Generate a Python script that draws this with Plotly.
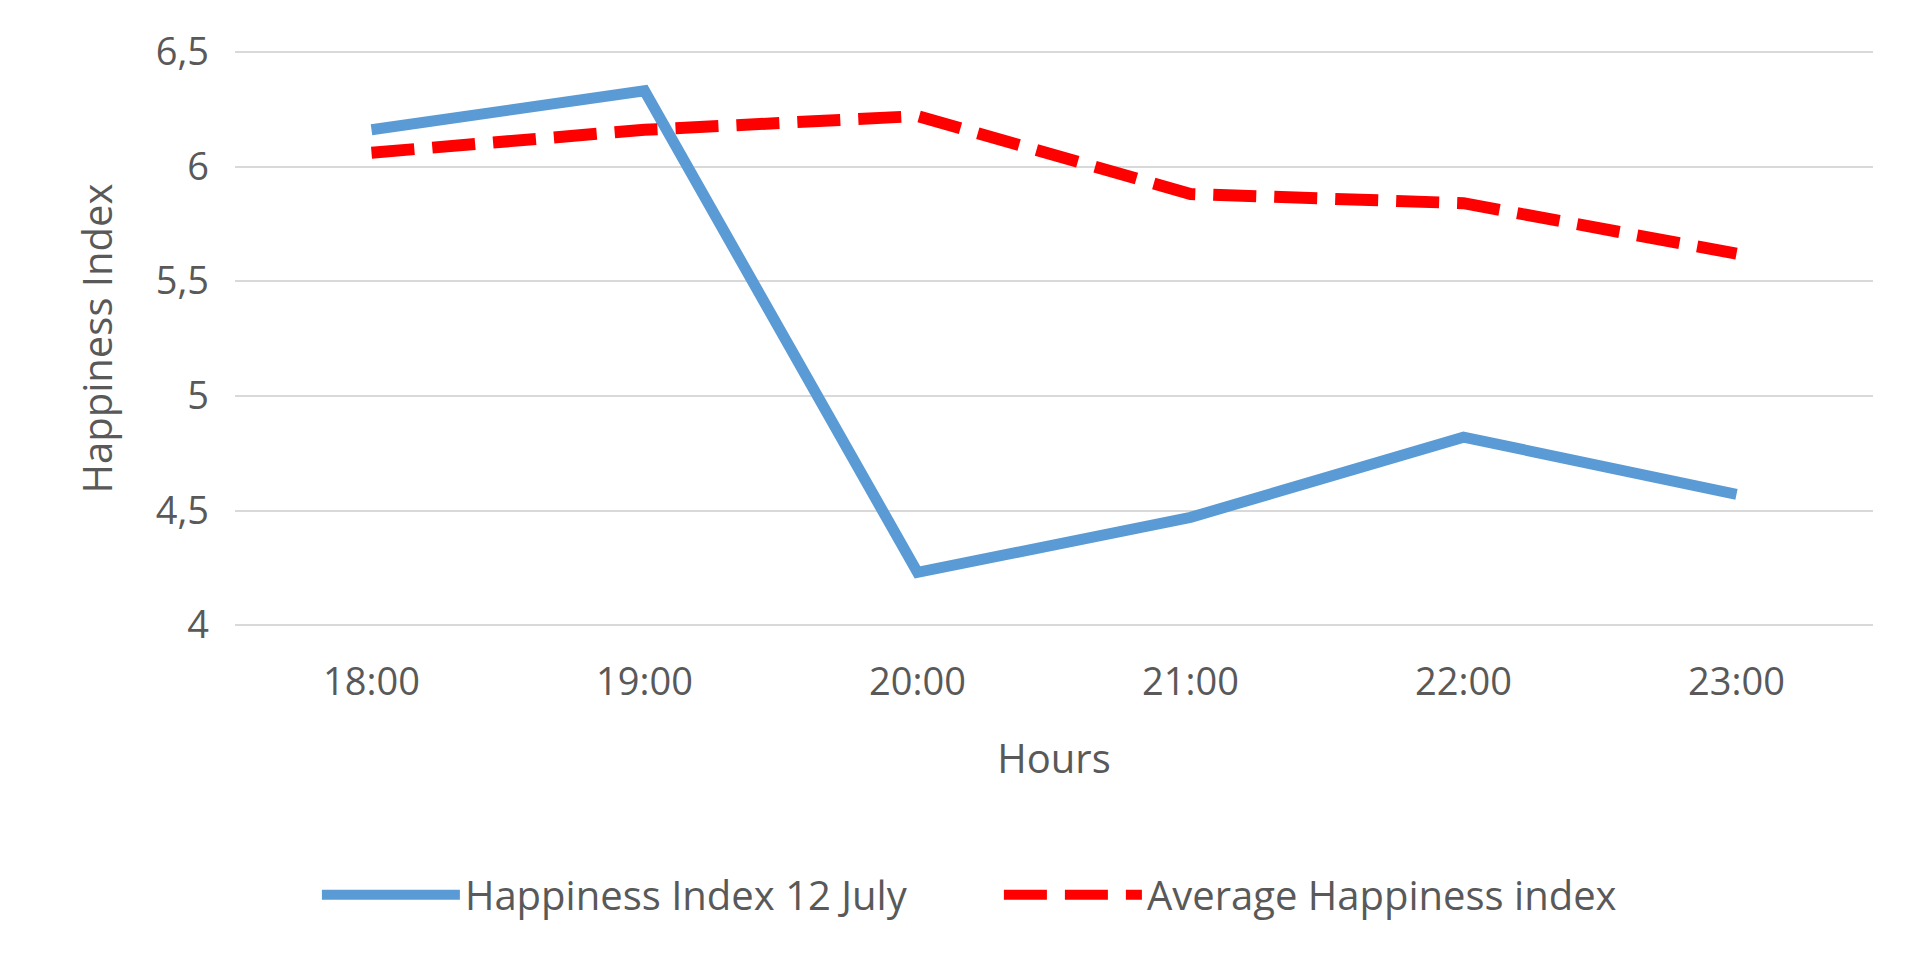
import plotly.graph_objects as go

hours = ["18:00", "19:00", "20:00", "21:00", "22:00", "23:00"]
happiness_12_july = [6.16, 6.33, 4.23, 4.47, 4.82, 4.57]
average_happiness = [6.06, 6.16, 6.22, 5.88, 5.84, 5.62]
y_ticks = [4, 4.5, 5, 5.5, 6, 6.5]
y_tick_labels = ["4", "4,5", "5", "5,5", "6", "6,5"]

FONT = "Open Sans"
GRAY = "#595959"

fig = go.Figure()
fig.add_trace(go.Scatter(
    x=hours, y=happiness_12_july, mode="lines",
    name="Happiness Index 12 July",
    line=dict(color="#5b9bd5", width=11),
))
fig.add_trace(go.Scatter(
    x=hours, y=average_happiness, mode="lines",
    name="Average Happiness index",
    line=dict(color="#ff0000", width=12, dash="43px,18px"),
))

fig.update_layout(
    width=1920, height=961,
    paper_bgcolor="white", plot_bgcolor="white",
    margin=dict(l=235, r=47, t=50, b=334),
    font=dict(family=FONT, color=GRAY, size=38),
    xaxis=dict(
        type="category", range=[-0.5, 5.5],
        showgrid=False, showline=False, zeroline=False,
        ticks="", ticklabelstandoff=29,
        tickfont=dict(size=38, color=GRAY),
        title=dict(text="Hours", font=dict(size=40, color=GRAY), standoff=39),
    ),
    yaxis=dict(
        range=[3.992, 6.508], tickvals=y_ticks, ticktext=y_tick_labels,
        showgrid=True, gridcolor="#d9d9d9", gridwidth=2,
        zeroline=False, showline=False, ticks="",
        ticklabelstandoff=25,
        tickfont=dict(size=38, color=GRAY),
        title=dict(text="Happiness Index", font=dict(size=40, color=GRAY), standoff=30),
    ),
    legend=dict(
        orientation="h", x=0.05, xanchor="left", y=-0.464, yanchor="middle",
        font=dict(size=40, color=GRAY), itemwidth=138,
        entrywidth=529, bgcolor="rgba(0,0,0,0)",
    ),
    showlegend=True,
)

fig.write_html("out.html")
